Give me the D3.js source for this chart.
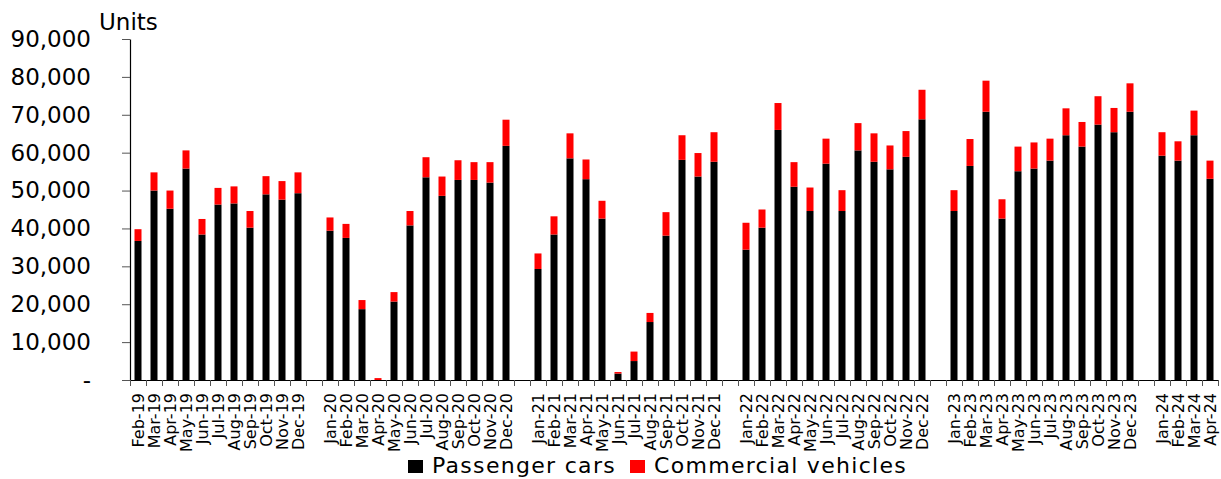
<!DOCTYPE html>
<html>
<head>
<meta charset="utf-8">
<script src="https://cdn.jsdelivr.net/npm/d3@7"></script>
<style>
  html, body { margin: 0; padding: 0; background: #fff; }
  svg { display: block; font-family: "DejaVu Sans", Verdana, sans-serif; }
</style>
</head>
<body>
<svg id="chart" width="1221" height="479"></svg>
<script>
// Monthly sales; empty strings mark the blank slot between years
const months = [
  "Feb-19","Mar-19","Apr-19","May-19","Jun-19","Jul-19","Aug-19","Sep-19","Oct-19","Nov-19","Dec-19","",
  "Jan-20","Feb-20","Mar-20","Apr-20","May-20","Jun-20","Jul-20","Aug-20","Sep-20","Oct-20","Nov-20","Dec-20","",
  "Jan-21","Feb-21","Mar-21","Apr-21","May-21","Jun-21","Jul-21","Aug-21","Sep-21","Oct-21","Nov-21","Dec-21","",
  "Jan-22","Feb-22","Mar-22","Apr-22","May-22","Jun-22","Jul-22","Aug-22","Sep-22","Oct-22","Nov-22","Dec-22","",
  "Jan-23","Feb-23","Mar-23","Apr-23","May-23","Jun-23","Jul-23","Aug-23","Sep-23","Oct-23","Nov-23","Dec-23","",
  "Jan-24","Feb-24","Mar-24","Apr-24"
];

const passengerCars = [
  36700, 50000, 45200, 55800, 38400, 46300, 46600, 40200, 49000, 47600, 49300, null,
  39400, 37500, 18700, 0, 20700, 40800, 53500, 48600, 52800, 52800, 52100, 61800, null,
  29300, 38400, 58500, 53000, 42600, 1700, 5000, 15300, 38100, 58100, 53700, 57600, null,
  34400, 40200, 66000, 51000, 44600, 57100, 44600, 60600, 57600, 55600, 58900, 68800, null,
  44600, 56500, 70800, 42600, 55100, 55800, 57900, 64600, 61600, 67400, 65400, 70800, null,
  59200, 57900, 64600, 53100
];

const commercialVehicles = [
  3100, 4800, 4800, 4800, 4100, 4400, 4500, 4400, 4800, 4900, 5500, null,
  3500, 3700, 2400, 500, 2500, 3800, 5300, 5100, 5200, 4700, 5400, 6900, null,
  4100, 4800, 6600, 5200, 4700, 400, 2500, 2400, 6200, 6500, 6200, 7800, null,
  7100, 4800, 7100, 6500, 6200, 6600, 5500, 7200, 7500, 6300, 6800, 7800, null,
  5500, 7100, 8200, 5100, 6500, 6900, 5800, 7100, 6500, 7500, 6400, 7500, null,
  6200, 5100, 6500, 4800
];

const yTicks = [0, 10000, 20000, 30000, 40000, 50000, 60000, 70000, 80000, 90000];
const seriesNames = ["Passenger cars", "Commercial vehicles"];
const seriesColors = ["#000000", "#ff0000"];

const svg = d3.select("#chart");
const margin = { left: 130, right: 3, top: 39, bottom: 99 };
const W = 1221, H = 479;

const idx = d3.range(months.length);
const x = d3.scaleBand().domain(idx).range([margin.left, W - margin.right]).paddingInner(0).paddingOuter(0);
const xEdges = d3.scaleLinear().domain([0, months.length]).range([margin.left, W - margin.right]);
const y = d3.scaleLinear().domain([0, 90000]).range([H - margin.bottom, margin.top]);

// Stack the two series
const rows = idx.map(i => ({ i, pc: passengerCars[i], cv: commercialVehicles[i] }));
const stack = d3.stack().keys(["pc", "cv"]).value((d, k) => d[k] == null ? 0 : d[k]);
const layers = stack(rows);

const barW = 7;
svg.append("g").selectAll("g")
  .data(layers)
  .join("g")
  .attr("fill", (d, k) => seriesColors[k])
  .selectAll("rect")
  .data(d => d.filter(s => s.data.pc != null && (s[1] - s[0]) > 0))
  .join("rect")
  .attr("x", s => x(s.data.i) + x.bandwidth() / 2 - barW / 2)
  .attr("width", barW)
  .attr("y", s => y(s[1]))
  .attr("height", s => y(s[0]) - y(s[1]));

// Y axis
const yAxis = svg.append("g")
  .attr("transform", `translate(${margin.left},0)`)
  .call(d3.axisLeft(y).tickValues(yTicks).tickSize(8).tickSizeOuter(0).tickPadding(31)
    .tickFormat(d => d === 0 ? "-" : d3.format(",")(d)));
yAxis.select(".domain").attr("stroke", "#000").attr("stroke-width", 1.2);
yAxis.selectAll(".tick line").attr("stroke", "#555");
yAxis.selectAll(".tick text").attr("font-size", 23).attr("fill", "#000")
  .attr("font-family", "DejaVu Sans, Verdana, sans-serif");

// X axis: ticks at category boundaries
const xAxis = svg.append("g")
  .attr("transform", `translate(0,${y(0)})`)
  .call(d3.axisBottom(xEdges).tickValues(d3.range(months.length + 1)).tickSize(6).tickSizeOuter(0).tickFormat(""));
xAxis.select(".domain").attr("stroke", "#000").attr("stroke-width", 1.2);
xAxis.selectAll(".tick line").attr("stroke", "#555");

// Rotated month labels
svg.append("g").selectAll("text")
  .data(idx.filter(i => months[i] !== ""))
  .join("text")
  .attr("transform", i => `translate(${x(i) + x.bandwidth() / 2},${y(0) + 13}) rotate(-90)`)
  .attr("text-anchor", "end")
  .attr("dy", "0.36em")
  .attr("font-size", 16)
  .attr("fill", "#000")
  .text(i => months[i]);

// Units caption
svg.append("text")
  .attr("x", 99).attr("y", 30)
  .attr("font-size", 23)
  .attr("fill", "#000")
  .text("Units");

// Legend
const legend = svg.append("g").attr("transform", "translate(408,460)");
const legendPos = [0, 222];
seriesNames.forEach((name, k) => {
  const g = legend.append("g").attr("transform", `translate(${legendPos[k]},0)`);
  g.append("rect").attr("width", 15).attr("height", 13).attr("fill", seriesColors[k]);
  g.append("text").attr("x", 24).attr("y", 13)
    .attr("font-size", 22).attr("letter-spacing", 1.3).attr("fill", "#000").text(name);
});
</script>
</body>
</html>
